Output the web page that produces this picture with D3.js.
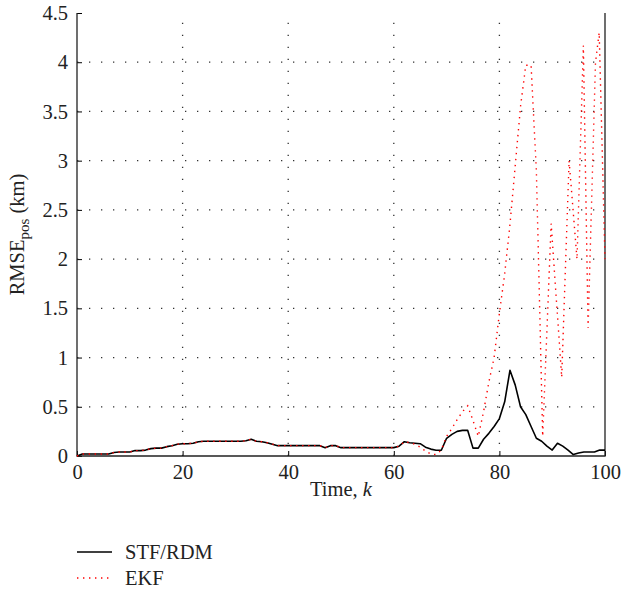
<!DOCTYPE html>
<html>
<head>
<meta charset="utf-8">
<script src="https://cdn.jsdelivr.net/npm/d3@7"></script>
<style>
  body { margin: 0; background: #fff; }
  svg { display: block; }
  text { font-family: "Liberation Serif", "DejaVu Serif", serif; fill: #222; }
</style>
</head>
<body>
<svg id="chart"></svg>
<script>
const width = 621;
const height = 593;

// time steps for the STF/RDM curve
const stfTimes = d3.range(0, 101);
const stfValues = [
  0.0, 0.02, 0.02, 0.02, 0.02, 0.02, 0.02, 0.035, 0.04, 0.04,
  0.04, 0.055, 0.055, 0.06, 0.075, 0.08, 0.08, 0.095, 0.105, 0.12,
  0.125, 0.125, 0.13, 0.145, 0.15, 0.15, 0.15, 0.15, 0.15, 0.15,
  0.15, 0.15, 0.155, 0.17, 0.15, 0.145, 0.135, 0.12, 0.105, 0.105,
  0.105, 0.105, 0.105, 0.105, 0.105, 0.105, 0.105, 0.085, 0.105, 0.105,
  0.085, 0.085, 0.085, 0.085, 0.085, 0.085, 0.085, 0.085, 0.085, 0.085,
  0.085, 0.1, 0.145, 0.135, 0.13, 0.125, 0.09, 0.07, 0.058, 0.058,
  0.18, 0.22, 0.25, 0.26, 0.26, 0.08, 0.08, 0.17, 0.23, 0.3,
  0.38, 0.55, 0.87, 0.72, 0.5, 0.42, 0.3, 0.18, 0.15, 0.1,
  0.06, 0.13, 0.1, 0.06, 0.015, 0.03, 0.04, 0.04, 0.04, 0.06,
  0.06
];

// EKF follows STF early on, then blows up
const ekfTimes = [
  0, 1, 2, 3, 4, 5, 6, 7, 8, 9,
  10, 11, 12, 13, 14, 15, 16, 17, 18, 19,
  20, 21, 22, 23, 24, 25, 26, 27, 28, 29,
  30, 31, 32, 33, 34, 35, 36, 37, 38, 39,
  40, 41, 42, 43, 44, 45, 46, 47, 48, 49,
  50, 51, 52, 53, 54, 55, 56, 57, 58, 59,
  60, 61, 62, 63, 64, 65, 66, 67, 68, 69,
  70, 71, 72, 73, 74, 75, 76, 77, 78, 79,
  80, 81, 82, 83, 84, 85, 86, 87, 88.2, 89.8,
  91.8, 93.2, 94.7, 95.9, 96.8, 98.2, 98.9, 100
];
const ekfValues = [
  0.0, 0.02, 0.02, 0.02, 0.02, 0.02, 0.02, 0.035, 0.04, 0.04,
  0.04, 0.055, 0.055, 0.06, 0.075, 0.08, 0.08, 0.095, 0.105, 0.12,
  0.125, 0.125, 0.13, 0.145, 0.15, 0.15, 0.15, 0.15, 0.15, 0.15,
  0.15, 0.15, 0.155, 0.17, 0.15, 0.145, 0.135, 0.12, 0.105, 0.105,
  0.105, 0.105, 0.105, 0.105, 0.105, 0.105, 0.105, 0.085, 0.105, 0.105,
  0.085, 0.085, 0.085, 0.085, 0.085, 0.085, 0.085, 0.085, 0.085, 0.085,
  0.085, 0.1, 0.145, 0.135, 0.12, 0.09, 0.05, 0.02, 0.015, 0.06,
  0.2, 0.28, 0.37, 0.45, 0.51, 0.36, 0.2, 0.45, 0.75, 1.0,
  1.45, 1.85, 2.35, 2.95, 3.55, 3.97, 3.97, 2.9, 0.2, 2.36,
  0.8, 3.0, 2.0, 4.17, 1.3, 4.0, 4.3, 2.0
];

const xTicks = [0, 20, 40, 60, 80, 100];
const yTicks = [0, 0.5, 1, 1.5, 2, 2.5, 3, 3.5, 4, 4.5];

const seriesNames = ["STF/RDM", "EKF"];

const margin = {top: 13, right: 16, bottom: 137, left: 77};

const svg = d3.select("#chart")
  .attr("width", width)
  .attr("height", height)
  .attr("viewBox", [0, 0, width, height]);

const x = d3.scaleLinear()
  .domain([0, 100])
  .range([margin.left, width - margin.right]);

const y = d3.scaleLinear()
  .domain([0, 4.5])
  .range([height - margin.bottom, margin.top]);

// dotted grid
const grid = svg.append("g")
  .attr("stroke", "#333")
  .attr("stroke-width", 1.3)
  .attr("stroke-dasharray", "1.3,10.7");

grid.selectAll(".vg")
  .data(xTicks.slice(1, -1))
  .join("line")
    .attr("x1", d => x(d)).attr("x2", d => x(d))
    .attr("y1", y(0)).attr("y2", y(4.5));

grid.selectAll(".hg")
  .data(yTicks.slice(1, -1))
  .join("line")
    .attr("x1", x(0)).attr("x2", x(100))
    .attr("y1", d => y(d)).attr("y2", d => y(d));

// axes, ticks inward
const fontSize = 20.5;

svg.append("g")
  .attr("transform", `translate(0,${y(0)})`)
  .call(d3.axisBottom(x).tickValues(xTicks).tickSizeInner(-5).tickSizeOuter(0).tickPadding(8))
  .call(g => g.select(".domain").remove())
  .call(g => g.selectAll("text").attr("font-size", fontSize).attr("font-family", null));

svg.append("g")
  .attr("transform", `translate(${x(0)},0)`)
  .call(d3.axisLeft(y).tickValues(yTicks).tickFormat(d3.format("")).tickSizeInner(-5).tickSizeOuter(0).tickPadding(9))
  .call(g => g.select(".domain").remove())
  .call(g => g.selectAll("text").attr("font-size", fontSize).attr("font-family", null));

// frame
svg.append("path")
  .attr("fill", "none")
  .attr("stroke", "#222")
  .attr("stroke-width", 1.3)
  .attr("d", `M${x(0)},${y(4.5)}V${y(0)}H${x(100)}V${y(4.5)}`);

const line = d3.line()
  .x(d => x(d[0]))
  .y(d => y(d[1]));

svg.append("path")
  .datum(d3.zip(stfTimes, stfValues))
  .attr("fill", "none")
  .attr("stroke", "#000")
  .attr("stroke-width", 1.6)
  .attr("stroke-linejoin", "round")
  .attr("d", line);

svg.append("path")
  .datum(d3.zip(ekfTimes, ekfValues))
  .attr("fill", "none")
  .attr("stroke", "#ff0000")
  .attr("stroke-width", 1.4)
  .attr("stroke-dasharray", "1.4,4.6")
  .attr("d", line);

// axis titles
svg.append("text")
  .attr("x", x(50))
  .attr("y", 496)
  .attr("text-anchor", "middle")
  .attr("font-size", fontSize)
  .call(t => {
    t.append("tspan").text("Time, ");
    t.append("tspan").attr("font-style", "italic").text("k");
  });

const yTitle = svg.append("text")
  .attr("transform", `translate(24,${y(2.25)}) rotate(-90)`)
  .attr("text-anchor", "middle")
  .attr("font-size", fontSize);
yTitle.append("tspan").text("RMSE");
yTitle.append("tspan").attr("font-size", 15).attr("dy", 5).text("pos");
yTitle.append("tspan").attr("dy", -5).text(" (km)");

// legend
const legend = svg.append("g");
const legendRows = legend.selectAll("g")
  .data(seriesNames)
  .join("g")
    .attr("transform", (d, i) => `translate(77,${552 + i * 26})`);

legendRows.append("line")
  .attr("x1", 0).attr("x2", 35)
  .attr("stroke", (d, i) => i === 0 ? "#000" : "#ff0000")
  .attr("stroke-width", (d, i) => i === 0 ? 1.6 : 1.4)
  .attr("stroke-dasharray", (d, i) => i === 0 ? null : "1.4,4.6");

legendRows.append("text")
  .attr("x", 48)
  .attr("dy", "0.35em")
  .attr("font-size", fontSize)
  .text(d => d);
</script>
</body>
</html>
